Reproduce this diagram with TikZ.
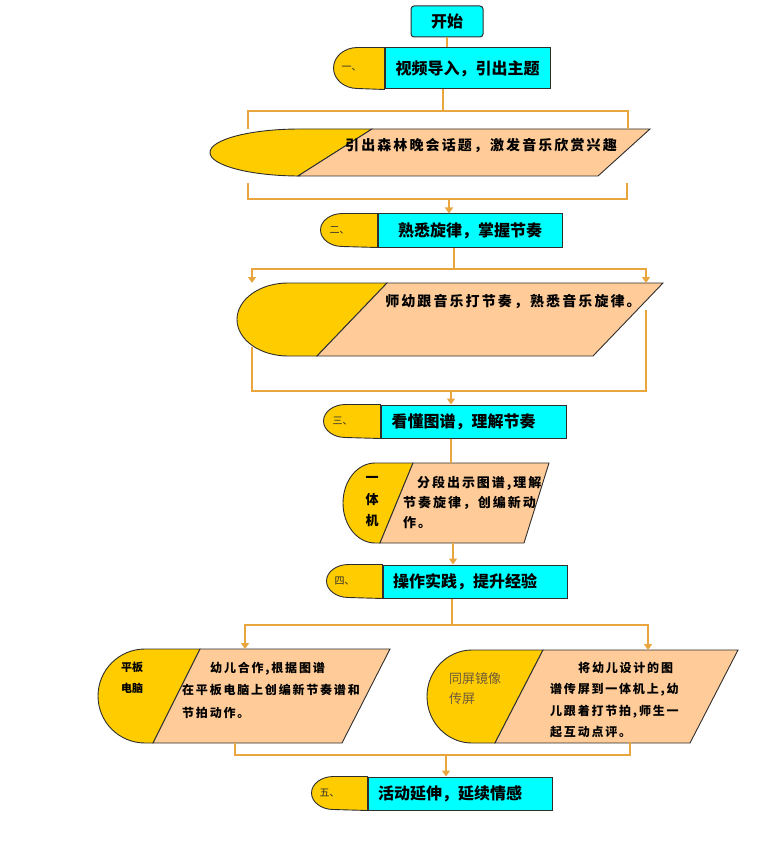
\documentclass[tikz,border=0pt]{standalone}
\usepackage{fontspec}
\setmainfont{Noto Sans CJK SC}
\newfontfamily\bodyfont[LetterSpace=15]{Noto Sans CJK SC}
\usepackage{tikz}
\usetikzlibrary{arrows.meta}
\definecolor{boxcyan}{HTML}{00FFFF}
\definecolor{tabyellow}{HTML}{FFCC00}
\definecolor{peach}{HTML}{FFCC99}
\definecolor{linkgold}{HTML}{E9A63F}
\definecolor{edgegray}{HTML}{2E2E2E}
\definecolor{mirror}{HTML}{705C3A}

\begin{document}
\begin{tikzpicture}[x=1pt,y=-1pt,
startbox/.style={draw=edgegray,fill=boxcyan,line width=1pt,rounded corners=3pt,inner sep=0pt,
	minimum width=72pt,minimum height=31pt,font=\fontsize{16}{16}\selectfont\bfseries},
stepbox/.style={draw=edgegray,fill=boxcyan,line width=1pt,inner sep=0pt,font=\fontsize{16}{16}\selectfont\bfseries},
tab/.style={draw=edgegray,fill=tabyellow,line width=0.9pt},
slant/.style={draw=edgegray,fill=peach,line width=0.9pt},
tabtext/.style={inner sep=0pt,text=edgegray,font=\fontsize{10}{10}\selectfont},
body/.style={inner sep=0pt,align=left,font=\bodyfont\bfseries},
link/.style={draw=linkgold,line width=2.8pt},
arr/.style={link,-{Triangle[length=6pt,width=8pt]}}]
\useasboundingbox (0,0) rectangle (756,850);

\node[startbox] (st) at (447,21.5) {开始};

%the five steps: cyan box with a yellow tab on its left
\foreach \n/\lbl/\x/\y/\w/\h/\s/\rx/\dx/\lx/\txt in {
t1/一、/467.5/68.5/165/41/27/24/0/33/视频导入，引出主题,
t2/二、/470/230.5/184/33/35/22/0/38/熟悉旋律，掌握节奏,
t3/三、/473.5/421.5/185/33/35/22/-20/38/看懂图谱，理解节奏,
t4/四、/475/581.5/184/33/34/22/-20/38/操作实践，提升经验,
t5/五、/460/793.5/184/33/34/22/-20/38/活动延伸，延续情感}{
	\node[stepbox,minimum width=\w,minimum height=\h] (\n) at (\x,\y) {\hspace*{\dx pt}\txt};
	\path[tab] (\n.north west) -- ++(-\s,0) arc[start angle=270,end angle=90,x radius=\rx,y radius=\h/2] -- (\n.south west) -- cycle;
	\node[tabtext] (\n l) at ([xshift=-\lx pt]\n.west) {\lbl};
}

%activity one
\path[tab] (372,129) -- (300,129) arc[start angle=270,end angle=90,x radius=90,y radius=23.5] -- (298,176) -- cycle;
\path[slant] (372,129) -- (650,129) -- (598,176) -- (298,176) -- cycle;
\node[body,font=\bodyfont\bfseries\fontsize{14}{14}\selectfont] (s1) at (481,146) {引出森林晚会话题，激发音乐欣赏兴趣};

%activity two
\path[tab] (387,283) -- (288,283) arc[start angle=270,end angle=90,x radius=51,y radius=36.5] -- (317,356) -- cycle;
\path[slant] (387,283) -- (663,283) -- (593,356) -- (317,356) -- cycle;
\node[body,font=\bodyfont\bfseries\fontsize{14}{14}\selectfont] (s2) at (513,301) {师幼跟音乐打节奏，熟悉音乐旋律。};

%activity three
\path[tab] (413,463) -- (375,463) arc[start angle=270,end angle=90,x radius=32,y radius=40] -- (380,543) -- cycle;
\path[slant] (413,463) -- (549,463) -- (524,543) -- (380,543) -- cycle;
\node[inner sep=0pt,align=center,font=\fontsize{13}{21.5}\selectfont\bfseries] (s3t) at (372,502) {一\\体\\机};
\node[body,anchor=west,font=\bodyfont\bfseries\fontsize{13}{20}\selectfont] (s3) at (403,502)
	{\hspace*{14pt}分段出示图谱,理解\\节奏旋律，创编新动\\作。};

%activity four, left part
\path[tab] (200,649) -- (145,649) arc[start angle=270,end angle=90,x radius=47,y radius=47] -- (153,743) -- cycle;
\path[slant] (200,649) -- (390,649) -- (342,743) -- (153,743) -- cycle;
\node[inner sep=0pt,align=left,font=\fontsize{11}{21}\selectfont\bfseries] (s4at) at (132,678) {平板\\电脑};
\node[body,anchor=west,font=\bodyfont\bfseries\fontsize{12}{22.5}\selectfont] (s4a) at (182,690)
	{\hspace*{28pt}幼儿合作,根据图谱\\在平板电脑上创编新节奏谱和\\节拍动作。};

%activity four, right part
\path[tab] (543,650) -- (472,650) arc[start angle=270,end angle=90,x radius=45,y radius=46.5] -- (495,743) -- cycle;
\path[slant] (543,650) -- (738,650) -- (690,743) -- (495,743) -- cycle;
\node[inner sep=0pt,anchor=west,align=left,text=mirror,font=\fontsize{13}{20}\selectfont] (s4bt) at (449,689) {同屏镜像\\传屏};
\node[body,anchor=west,font=\bodyfont\bfseries\fontsize{12}{21.3}\selectfont] (s4b) at (550,700)
	{\hspace*{28pt}将幼儿设计的图\\谱传屏到一体机上,幼\\儿跟着打节拍,师生一\\起互动点评。};

%corners of the connectors
\coordinate (j1) at (443,111);
\coordinate (s1a) at (248,129);
\coordinate (s1b) at (628,129);
\coordinate (s1c) at (248,183);
\coordinate (s1d) at (627,183);
\coordinate (j2) at (449,199);
\coordinate (j3) at (454,269);
\coordinate (s2a) at (252,283);
\coordinate (s2b) at (646,283);
\coordinate (s2c) at (252,347);
\coordinate (s2d) at (646,310);
\coordinate (j4) at (451,391);
\coordinate (s3a) at (451,463);
\coordinate (s3b) at (453,543);
\coordinate (j5) at (452,625);
\coordinate (s4a1) at (245,649);
\coordinate (s4b1) at (648,650);
\coordinate (s4a2) at (235,743);
\coordinate (s4b2) at (630,742);
\coordinate (j6) at (446,755);

%connectors
\draw[link] (st.south) -- (st.south |- t1.north);
\draw[link] (j1 |- t1.south) -- (j1);
\draw[link] (s1a) |- (j1) -| (s1b);
\draw[link] (s1c) |- (j2) -| (s1d);
\draw[arr] (j2) -- (j2 |- t2.north);
\draw[link] (j3 |- t2.south) -- (j3);
\draw[arr] (j3) -| (s2a);
\draw[arr] (j3) -| (s2b);
\draw[link] (s2c) |- (j4) -| (s2d);
\draw[arr] (j4) -- (j4 |- t3.north);
\draw[link] (s3a |- t3.south) -- (s3a);
\draw[arr] (s3b) -- (s3b |- t4.north);
\draw[link] (j5 |- t4.south) -- (j5);
\draw[arr] (j5) -| (s4a1);
\draw[arr] (j5) -| (s4b1);
\draw[link] (s4a2) |- (j6) -| (s4b2);
\draw[arr] (j6) -- (j6 |- t5.north);

\end{tikzpicture}
\end{document}
